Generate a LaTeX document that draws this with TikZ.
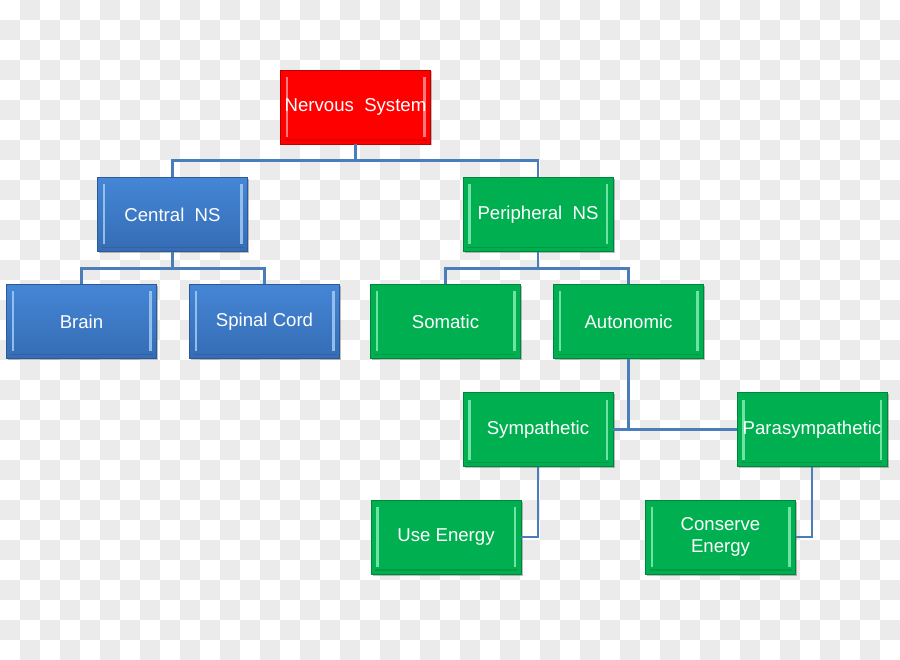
\documentclass[tikz,border=0pt]{standalone}
\usepackage{fontspec}
\setmainfont{Liberation Sans}
\usetikzlibrary{shadows}
\definecolor{chk}{HTML}{EBEBEB}
\definecolor{lnk}{HTML}{4A7EBB}
\definecolor{rd}{HTML}{FF0000}
\definecolor{rdd}{HTML}{C00000}
\definecolor{rdl}{HTML}{FF9A9A}
\definecolor{bl}{HTML}{3D7BC9}
\definecolor{blt}{HTML}{4586D6}
\definecolor{blb}{HTML}{356CB4}
\definecolor{bld}{HTML}{2A5A98}
\definecolor{bll}{HTML}{A9CFF5}
\definecolor{gr}{HTML}{00B050}
\definecolor{grd}{HTML}{00853C}
\definecolor{grl}{HTML}{8AF0B8}
\tikzset{
  box/.style={rectangle, minimum width=150pt, minimum height=74pt, inner sep=0pt,
    line width=0.8pt, text=white, align=center,
    font=\fontsize{18.6}{21.5}\selectfont,
    drop shadow={shadow xshift=1.5pt, shadow yshift=-1.5pt, fill=black, opacity=0.25},
    path picture={
      \fill[#1l,opacity=0.8] ([xshift=5pt,yshift=-7pt]path picture bounding box.north west)
         rectangle ([xshift=7.5pt,yshift=7pt]path picture bounding box.south west);
      \fill[#1l,opacity=0.8] ([xshift=-7.5pt,yshift=-7pt]path picture bounding box.north east)
         rectangle ([xshift=-5pt,yshift=7pt]path picture bounding box.south east);
      \draw[#1d,line width=1.2pt,opacity=0.5] ([xshift=4pt,yshift=4pt]path picture bounding box.south west)
         -- ([xshift=-4pt,yshift=4pt]path picture bounding box.south east);
    }},
  redbox/.style={box=rd, fill=rd, draw=rdd},
  bluebox/.style={box=bl, top color=blt, bottom color=blb, draw=bld},
  greenbox/.style={box=gr, fill=gr, draw=grd},
  link/.style={draw=lnk, line width=2.6pt}
}
\begin{document}
\begin{tikzpicture}[x=1pt,y=-1pt]
\useasboundingbox (0,0) rectangle (900,660);
\fill[white] (0,0) rectangle (900,660);
\foreach \i in {0,...,44}{
  \foreach \j in {0,...,32}{
    \pgfmathtruncatemacro{\pq}{mod(\i+\j,2)}
    \ifnum\pq=1
      \fill[chk] (\i*20,\j*20) rectangle ++(20,20);
    \fi
  }
}
\node[redbox]   (ns)     at (355.5,107)   {Nervous\ \ System};
\node[bluebox]  (cns)    at (172.5,214.5) {Central\ \ NS};
\node[greenbox] (pns)    at (538,214.5)   {Peripheral\ \ NS};
\node[bluebox]  (brain)  at (81.5,321.5)  {Brain};
\node[bluebox]  (spinal) at (264.5,321.5) {Spinal Cord};
\node[greenbox] (som)    at (445.5,321.5) {Somatic};
\node[greenbox] (aut)    at (628.5,321.5) {Autonomic};
\node[greenbox] (symp)   at (538,429.5)   {Sympathetic};
\node[greenbox] (para)   at (812,429.5)   {Parasympathetic};
\node[greenbox] (use)    at (446,537)     {Use Energy};
\node[greenbox] (cons)   at (720.5,537)   {Conserve\\Energy};
\draw[link] (ns.south) -- ++(0,15.5);
\draw[link] (cns.north) -- ++(0,-16.5) -| (pns.north);
\draw[link] (cns.south) -- ++(0,16);
\draw[link] (brain.north) -- ++(0,-15.5) -| (spinal.north);
\draw[link] (pns.south) -- ++(0,16);
\draw[link] (som.north) -- ++(0,-15.5) -| (aut.north);
\draw[link] (aut.south) -- (aut.south |- symp.east);
\draw[link] (symp.east) -- (para.west);
\draw[link] (symp.south) |- (use.east);
\draw[link] (para.south) |- (cons.east);
\end{tikzpicture}
\end{document}
